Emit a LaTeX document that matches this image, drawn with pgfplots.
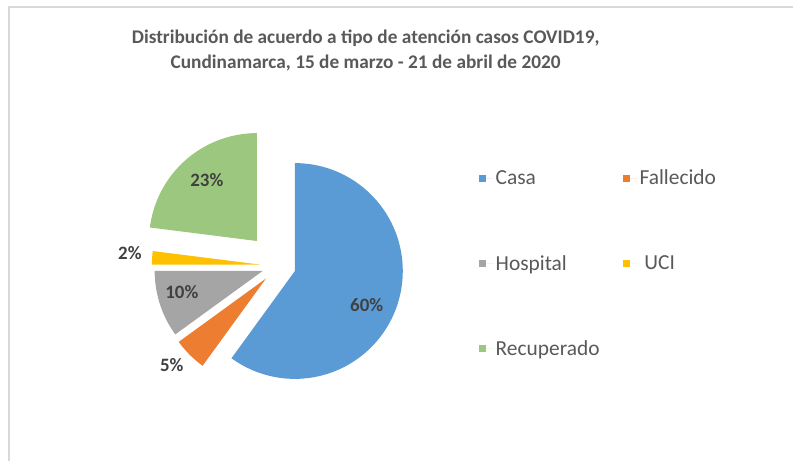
\documentclass[border=0pt]{standalone}
\usepackage{fontspec}
\setmainfont{Carlito}
\usepackage{pgfplots}
\pgfplotsset{compat=1.18}

\definecolor{casa}{HTML}{5B9BD5}
\definecolor{fallecido}{HTML}{ED7D31}
\definecolor{hospital}{HTML}{A5A5A5}
\definecolor{uci}{HTML}{FFC000}
\definecolor{recuperado}{HTML}{9CC77F}
\definecolor{titlegray}{HTML}{595959}
\definecolor{labelgray}{HTML}{404040}
\definecolor{bordergray}{HTML}{D9D9D9}

% pie centre and radius, in axis units (1 unit = 1bp)
\def\cx{279}
\def\cy{195}
\def\R{108}
\gdef\cum{0}

% #1 = percent, #2 = explosion, #3 = colour
\newcommand{\pieslice}[3]{%
  \pgfmathsetmacro\aE{90-3.6*\cum}%
  \pgfmathsetmacro\aS{90-3.6*(\cum+#1)}%
  \pgfmathsetmacro\aM{(\aS+\aE)/2}%
  \pgfmathsetmacro\vx{\cx+#2*cos(\aM)}%
  \pgfmathsetmacro\vy{\cy+#2*sin(\aM)}%
  \pgfmathsetmacro\newcum{\cum+#1}%
  \xdef\cum{\newcum}%
  \edef\temp{\noexpand\addplot[fill=#3, draw=none, domain=\aS:\aE, samples=90]
    ({\vx+\R*cos(x)},{\vy+\R*sin(x)}) -- (axis cs:\vx,\vy) -- cycle;}%
  \temp
}

\begin{document}
\begin{tikzpicture}
\begin{axis}[
  width=794bp, height=461bp, scale only axis,
  xmin=0, xmax=794, ymin=0, ymax=461,
  hide axis, clip=false,
  legend columns=2,
  legend cell align=left,
  legend style={draw=none, fill=none, at={(axis cs:476,295)}, anchor=north west,
    font=\fontsize{21.5}{25}\selectfont, text=titlegray, row sep=65bp,
    /tikz/every even column/.append style={column sep=21bp}},
  legend image code/.code={\fill[#1] (0bp,-3.5bp) rectangle (7bp,3.5bp);
    \path (0bp,0bp) -- (15bp,0bp);},
]
\path (axis cs:0,0) rectangle (axis cs:794,461);
\draw[bordergray, line width=1.5bp] (axis cs:9,0) -- (axis cs:9,454) -- (axis cs:794,454);

\pieslice{60}{17}{casa}
\addlegendentry{Casa}
\pieslice{5}{18}{fallecido}
\addlegendentry{Fallecido}
\pieslice{10}{17}{hospital}
\addlegendentry{Hospital}
\pieslice{2}{19}{uci}
\addlegendentry{\ UCI}
\pieslice{23}{33}{recuperado}
\addlegendentry{Recuperado}

\node[font=\bfseries\fontsize{19.4}{25}\selectfont, text=titlegray, align=center]
  at (axis cs:366,410.5) {Distribución de acuerdo a tipo de atención casos COVID19,\\Cundinamarca, 15 de marzo - 21 de abril de 2020};

\begin{scope}[every node/.style={font=\bfseries\fontsize{19}{22}\selectfont, text=labelgray}]
\node at (axis cs:367,156) {60\%};
\node at (axis cs:172,96) {5\%};
\node at (axis cs:182,169) {10\%};
\node at (axis cs:130,208) {2\%};
\node at (axis cs:207,281) {23\%};
\end{scope}
\end{axis}
\end{tikzpicture}
\end{document}
